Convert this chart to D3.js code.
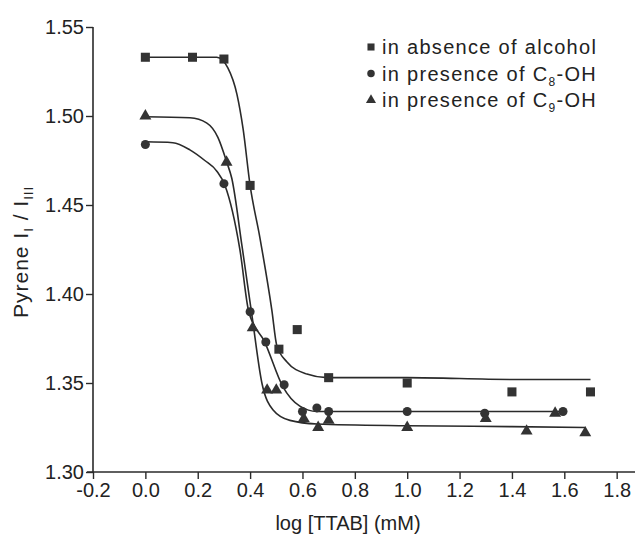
<!DOCTYPE html>
<html>
<head>
<meta charset="utf-8">
<script src="https://cdn.jsdelivr.net/npm/d3@7"></script>
<style>
  body { margin: 0; background: #fff; }
  svg text { font-family: "Liberation Sans", Arial, sans-serif; fill: #222; }
</style>
</head>
<body>
<div id="chart"></div>
<script>
// measured points, log[TTAB] vs I1/I3
const absX = [0.0, 0.18, 0.30, 0.40, 0.51, 0.58, 0.70, 1.0, 1.40, 1.70];
const absY = [1.533, 1.533, 1.532, 1.461, 1.369, 1.380, 1.353, 1.350, 1.345, 1.345];

const c8X = [0.0, 0.30, 0.40, 0.46, 0.53, 0.60, 0.655, 0.70, 1.0, 1.296, 1.595];
const c8Y = [1.484, 1.462, 1.390, 1.373, 1.349, 1.334, 1.336, 1.334, 1.334, 1.333, 1.334];

const c9X = [0.0, 0.31, 0.41, 0.465, 0.50, 0.605, 0.66, 0.70, 1.0, 1.30, 1.456, 1.565, 1.68];
const c9Y = [1.500, 1.474, 1.381, 1.346, 1.346, 1.330, 1.325, 1.329, 1.325, 1.330, 1.323, 1.333, 1.322];

// fitted curves
const absFitX = [0.0, 0.18, 0.273, 0.315, 0.35, 0.373, 0.40, 0.437, 0.483, 0.502, 0.54, 0.617, 0.693, 1.0, 1.40, 1.70];
const absFitY = [1.533, 1.533, 1.533, 1.527, 1.512, 1.493, 1.461, 1.432, 1.391, 1.371, 1.362, 1.355, 1.353, 1.353, 1.352, 1.352];

const c8FitX = [0.0, 0.105, 0.17, 0.227, 0.273, 0.304, 0.361, 0.395, 0.456, 0.525, 0.59, 0.655, 1.0, 1.3, 1.595];
const c8FitY = [1.4855, 1.485, 1.481, 1.475, 1.469, 1.461, 1.425, 1.390, 1.373, 1.348, 1.337, 1.334, 1.334, 1.334, 1.334];

const c9FitX = [0.0, 0.17, 0.235, 0.277, 0.311, 0.33, 0.369, 0.407, 0.445, 0.487, 0.552, 0.655, 1.0, 1.4, 1.68];
const c9FitY = [1.4996, 1.499, 1.496, 1.488, 1.474, 1.465, 1.427, 1.388, 1.350, 1.335, 1.329, 1.327, 1.326, 1.3255, 1.325];

const xMajor = [-0.2, 0.0, 0.2, 0.4, 0.6, 0.8, 1.0, 1.2, 1.4, 1.6, 1.8];
const xMinor = [-0.1, 0.1, 0.3, 0.5, 0.7, 0.9, 1.1, 1.3, 1.5, 1.7];
const yMajor = [1.30, 1.35, 1.40, 1.45, 1.50, 1.55];
const yMinor = [1.325, 1.375, 1.425, 1.475, 1.525];

const legendLabels = [
  ["in absence of alcohol"],
  ["in presence of C", "8", "-OH"],
  ["in presence of C", "9", "-OH"]
];

const width = 638, height = 543;
const ink = "#2a2a2a";

const x = d3.scaleLinear().domain([-0.2, 1.87]).range([93, 635]);
const y = d3.scaleLinear().domain([1.30, 1.55]).range([472, 27]);

const svg = d3.select("#chart").append("svg")
  .attr("width", width)
  .attr("height", height);

// x axis
const xAxis = svg.append("g").attr("transform", `translate(0,${y(1.30)})`);
xAxis.call(d3.axisBottom(x).tickValues(xMinor).tickSize(4).tickFormat(""));
xAxis.call(d3.axisBottom(x).tickValues(xMajor).tickSize(7).tickPadding(4)
  .tickFormat(d => d.toFixed(1)));
xAxis.selectAll(".domain").remove();
xAxis.append("line").attr("x1", x(-0.2) - 6).attr("x2", x(1.87))
  .attr("stroke", ink).attr("stroke-width", 1.6);

// y axis
const yAxis = svg.append("g").attr("transform", `translate(${x(-0.2)},0)`);
yAxis.call(d3.axisLeft(y).tickValues(yMinor).tickSize(4).tickFormat(""));
yAxis.call(d3.axisLeft(y).tickValues(yMajor).tickSize(7).tickPadding(2)
  .tickFormat(d => d.toFixed(2)));
yAxis.selectAll(".domain").remove();
yAxis.append("line").attr("y1", y(1.30)).attr("y2", y(1.55))
  .attr("stroke", ink).attr("stroke-width", 1.6);

svg.selectAll(".tick line").attr("stroke", ink).attr("stroke-width", 1.4);
svg.selectAll(".tick text").attr("font-size", 20).style("fill", "#222");

// axis titles
svg.append("text")
  .attr("x", 348)
  .attr("y", 530)
  .attr("text-anchor", "middle")
  .attr("font-size", 20)
  .text("log [TTAB] (mM)");

const yTitle = svg.append("text")
  .attr("transform", "translate(28,252) rotate(-90)")
  .attr("text-anchor", "middle")
  .attr("font-size", 21)
  .attr("letter-spacing", 1);
yTitle.append("tspan").text("Pyrene I");
yTitle.append("tspan").attr("font-size", 13).attr("dy", 5).text("I");
yTitle.append("tspan").attr("dy", -5).text(" / I");
yTitle.append("tspan").attr("font-size", 13).attr("dy", 5).text("III");

// fitted lines
const line = d3.line()
  .x(d => x(d[0]))
  .y(d => y(d[1]))
  .curve(d3.curveMonotoneX);

const fits = [[absFitX, absFitY], [c8FitX, c8FitY], [c9FitX, c9FitY]];
fits.forEach(([xs, ys]) => {
  svg.append("path")
    .datum(xs.map((v, i) => [v, ys[i]]))
    .attr("d", line)
    .attr("fill", "none")
    .attr("stroke", ink)
    .attr("stroke-width", 1.6);
});

// markers
const symbols = [
  d3.symbol().type(d3.symbolSquare).size(82),
  d3.symbol().type(d3.symbolCircle).size(64),
  d3.symbol().type(d3.symbolTriangle).size(62)
];
const legendSymbols = [
  d3.symbol().type(d3.symbolSquare).size(50),
  d3.symbol().type(d3.symbolCircle).size(44),
  d3.symbol().type(d3.symbolTriangle).size(44)
];
const series = [[absX, absY], [c8X, c8Y], [c9X, c9Y]];
series.forEach(([xs, ys], k) => {
  svg.append("g").selectAll("path")
    .data(xs.map((v, i) => [v, ys[i]]))
    .join("path")
    .attr("transform", d => `translate(${x(d[0])},${y(d[1])})`)
    .attr("d", symbols[k])
    .attr("fill", "#333");
});

// legend
const legend = svg.append("g").attr("transform", "translate(371,47)");
legendLabels.forEach((parts, i) => {
  const row = legend.append("g").attr("transform", `translate(0,${i * 26.5})`);
  row.append("path").attr("d", legendSymbols[i]).attr("fill", "#333");
  const t = row.append("text").attr("x", 11).attr("y", 7)
    .attr("font-size", 20).attr("letter-spacing", 1.3);
  t.append("tspan").text(parts[0]);
  if (parts.length > 1) {
    t.append("tspan").attr("font-size", 12).attr("dy", 5).text(parts[1]);
    t.append("tspan").attr("dy", -5).text(parts[2]);
  }
});
</script>
</body>
</html>
